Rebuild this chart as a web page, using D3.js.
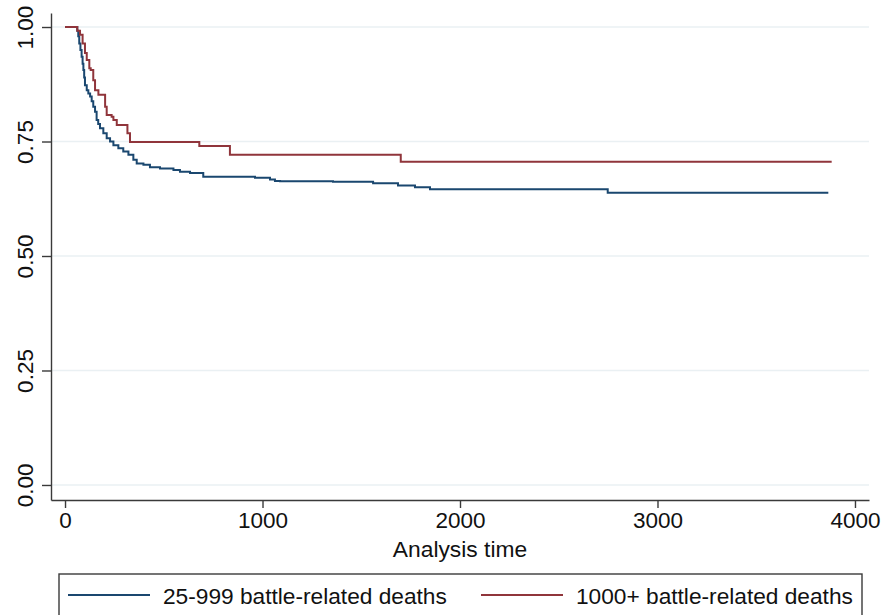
<!DOCTYPE html>
<html>
<head>
<meta charset="utf-8">
<script src="https://cdn.jsdelivr.net/npm/d3@7"></script>
<style>
  body { margin: 0; background: #fff; }
  svg { display: block; font-family: "Liberation Sans", Arial, sans-serif; }
  .axis path, .axis line { stroke: #3a3a3a; stroke-width: 1.4; }
  .axis text { fill: #111; font-size: 22.5px; }
</style>
</head>
<body>
<svg id="chart" width="881" height="615"></svg>
<script>
// Kaplan-Meier step points
var blueTime = [0, 62, 67, 72, 78, 84, 89, 93, 97, 101, 110, 118, 127, 135, 143, 152, 160, 168, 177, 194,
  211, 228, 245, 270, 295, 321, 346, 363, 397, 430, 481, 549, 582, 633, 700, 962, 1038, 1063, 1089,
  1357, 1560, 1686, 1772, 1848, 2748, 3865];
var blueSurv = [1.000, 0.992, 0.980, 0.964, 0.950, 0.935, 0.920, 0.906, 0.890, 0.873, 0.862, 0.855, 0.848, 0.838, 0.826, 0.815, 0.797, 0.788, 0.779, 0.768,
  0.757, 0.750, 0.742, 0.735, 0.728, 0.721, 0.710, 0.702, 0.699, 0.694, 0.691, 0.688, 0.684, 0.681, 0.673, 0.671, 0.667, 0.664, 0.663,
  0.662, 0.659, 0.654, 0.650, 0.646, 0.638, 0.638];

var redTime = [0, 62, 76, 89, 101, 110, 123, 130, 143, 152, 169, 203, 211, 236, 245, 262, 316, 329, 680, 835, 1700, 3882];
var redSurv = [1.000, 0.992, 0.983, 0.964, 0.943, 0.928, 0.910, 0.906, 0.884, 0.862, 0.852, 0.826, 0.808, 0.804, 0.797, 0.786, 0.768, 0.749, 0.740, 0.721, 0.706, 0.706];

var seriesNames = ["25-999 battle-related deaths", "1000+ battle-related deaths"];
var seriesColors = ["#1a476f", "#90353b"];
var xTicks = [0, 1000, 2000, 3000, 4000];
var yTicks = [0, 0.25, 0.5, 0.75, 1];
var xTitle = "Analysis time";

var svg = d3.select("#chart");

var x = d3.scaleLinear().domain([-71, 4071]).range([51, 869]);
var y = d3.scaleLinear().domain([-0.0328, 1.0306]).range([500, 13]);

// gridlines
svg.append("g")
  .selectAll("line")
  .data(yTicks)
  .enter()
  .append("line")
  .attr("x1", 51)
  .attr("x2", 869)
  .attr("y1", function (d) { return y(d); })
  .attr("y2", function (d) { return y(d); })
  .attr("stroke", "#eaf0f3")
  .attr("stroke-width", 1.6);

// curves
var line = d3.line()
  .x(function (d) { return x(d[0]); })
  .y(function (d) { return y(d[1]); })
  .curve(d3.curveStepAfter);

var series = [d3.zip(blueTime, blueSurv), d3.zip(redTime, redSurv)];

svg.append("g")
  .selectAll("path")
  .data(series)
  .enter()
  .append("path")
  .attr("d", line)
  .attr("fill", "none")
  .attr("stroke", function (d, i) { return seriesColors[i]; })
  .attr("stroke-width", 2);

// axes
var xAxis = d3.axisBottom(x).tickValues(xTicks).tickFormat(d3.format("d")).tickSize(8).tickSizeOuter(0).tickPadding(4);
svg.append("g").attr("class", "axis").attr("transform", "translate(0,500)").call(xAxis);

var yAxis = d3.axisLeft(y).tickValues(yTicks).tickFormat(d3.format(".2f")).tickSize(9).tickSizeOuter(0);
var yg = svg.append("g").attr("class", "axis").attr("transform", "translate(51,0)").call(yAxis);
yg.selectAll(".tick text")
  .attr("x", null).attr("dy", null)
  .attr("text-anchor", "middle")
  .attr("transform", "translate(-18,0) rotate(-90)");

svg.append("text")
  .attr("x", 460)
  .attr("y", 557)
  .attr("text-anchor", "middle")
  .attr("font-size", 22.8)
  .attr("fill", "#111")
  .text(xTitle);

// legend
var legend = svg.append("g");
legend.append("rect")
  .attr("x", 59).attr("y", 574)
  .attr("width", 803).attr("height", 60)
  .attr("fill", "#fff")
  .attr("stroke", "#3a3a3a")
  .attr("stroke-width", 1.4);

var legX = [68, 481];
seriesNames.forEach(function (name, i) {
  legend.append("line")
    .attr("x1", legX[i]).attr("x2", legX[i] + 82)
    .attr("y1", 595).attr("y2", 595)
    .attr("stroke", seriesColors[i])
    .attr("stroke-width", 2);
  legend.append("text")
    .attr("x", legX[i] + 95)
    .attr("y", 603.5)
    .attr("font-size", 22.7)
    .attr("fill", "#111")
    .text(name);
});
</script>
</body>
</html>
